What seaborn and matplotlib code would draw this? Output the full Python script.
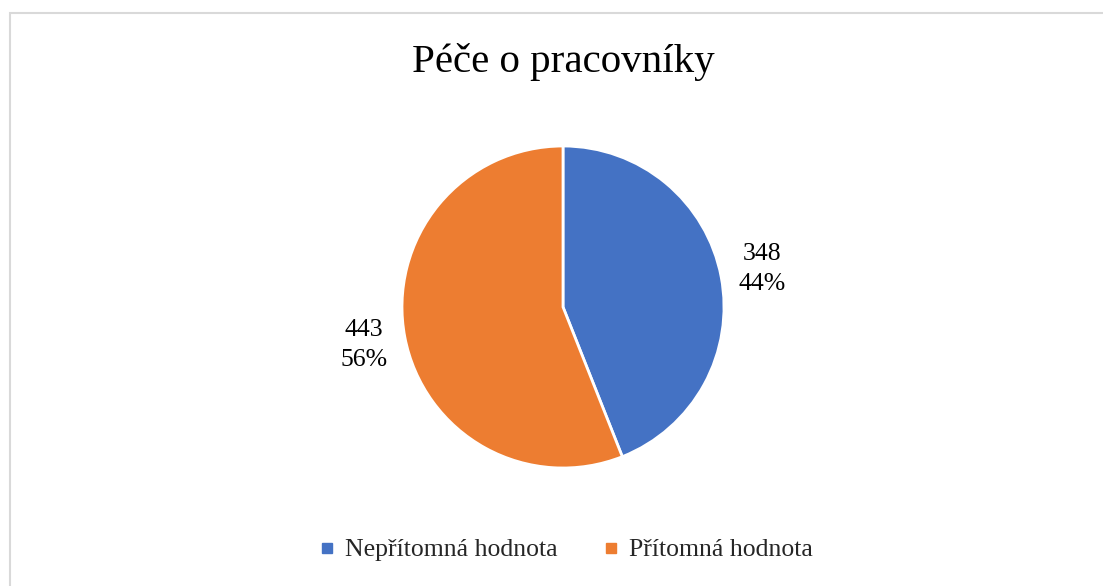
import matplotlib
matplotlib.use("Agg")
import matplotlib.pyplot as plt
import seaborn as sns
import pandas as pd
from matplotlib.patches import Rectangle
from matplotlib.lines import Line2D

# Data
categories = ["Nepřítomná hodnota", "Přítomná hodnota"]
values = [348, 443]
colors = ["#4472C4", "#ED7D31"]
title = "Péče o pracovníky"

df = pd.DataFrame({"category": categories, "value": values})

sns.set_theme(style="white")
plt.rcParams["font.family"] = ["Liberation Serif", "DejaVu Serif"]

W, H = 1103, 586
fig = plt.figure(figsize=(W / 100, H / 100), dpi=100)

cx, cy, r = 563, 307, 161
ax = fig.add_axes([(cx - r) / W, (H - cy - r) / H, 2 * r / W, 2 * r / H])

total = df["value"].sum()

def fmt(p):
    return f"{int(round(p * total / 100))}\n{p:.0f}%"

wedges, _, autotexts = ax.pie(
    df["value"], colors=colors, startangle=90, counterclock=False,
    wedgeprops=dict(edgecolor="white", linewidth=2),
    autopct=fmt, pctdistance=1.26,
    textprops=dict(fontsize=18.5, color="#000000", linespacing=1.45),
)
ax.set_xlim(-1, 1)
ax.set_ylim(-1, 1)
ax.set_aspect("equal")
ax.axis("off")

fig.text(cx / W, 1 - 62 / H, title, ha="center", va="center", fontsize=29.5, color="#000000")

handles = [Line2D([0], [0], marker="s", linestyle="none", markersize=7,
                  markerfacecolor=c, markeredgecolor=c) for c in colors]
fig.legend(handles, categories, loc="center", bbox_to_anchor=(566 / W, 1 - 550 / H),
           ncol=2, frameon=False, fontsize=18.5, handletextpad=0.4, columnspacing=1.8,
           handlelength=0.6)

border = Rectangle((10 / W, -0.05), 1.2, 1 - 13 / H + 0.05, transform=fig.transFigure,
                   fill=False, edgecolor="#D9D9D9", linewidth=1.5)
fig.patches.append(border)

fig.savefig("out.png", dpi=100, facecolor="white")
